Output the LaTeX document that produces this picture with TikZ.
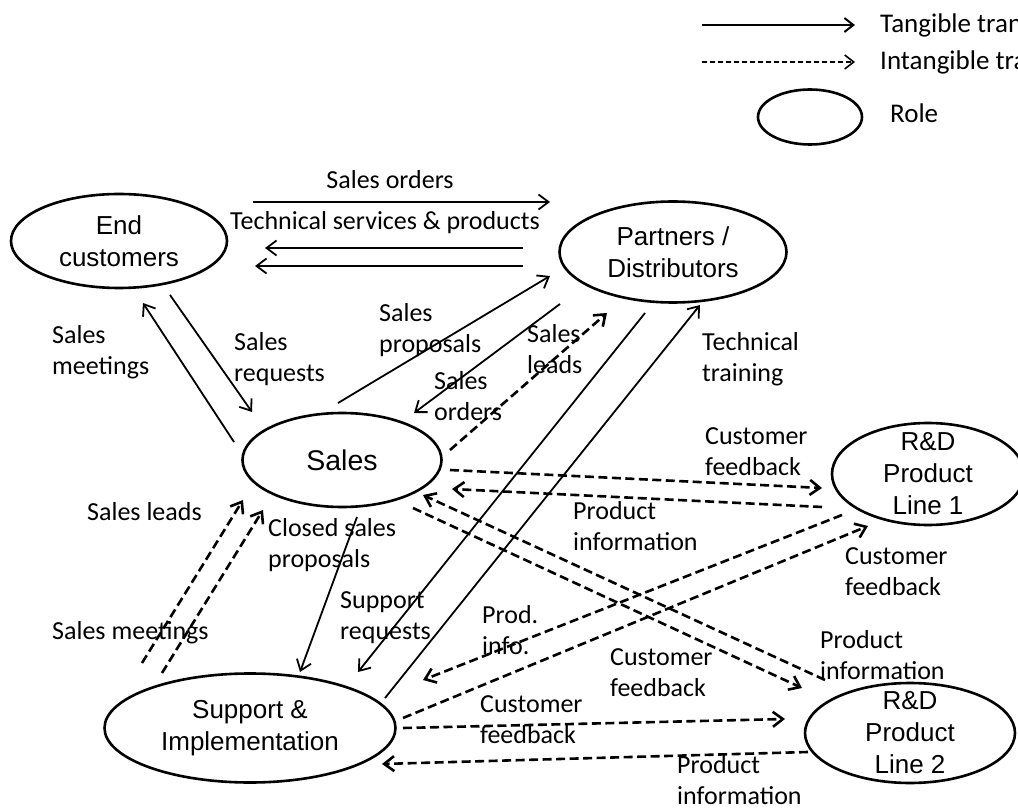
\documentclass[tikz,border=0pt]{standalone}
\usepackage{fontspec}
\setmainfont{Carlito}
\newfontfamily\rolefont{Liberation Sans}
\usetikzlibrary{shapes.geometric,arrows.meta}

\begin{document}
\begin{tikzpicture}[x=1pt,y=-1pt,
  role/.style={ellipse,draw,line width=2.6pt,inner sep=-15pt,align=center,
    font=\rolefont\fontsize{26}{32}\selectfont},
  flow/.style={line width=1.8pt,-{Straight Barb[length=10pt,width=15pt]}},
  soft/.style={flow,line width=2.6pt,dash pattern=on 9pt off 4.5pt},
  lbl/.style={anchor=west,align=left,inner sep=0pt,font=\fontsize{26}{31}\selectfont},
  keytext/.style={anchor=west,inner sep=0pt,font=\fontsize{27}{32}\selectfont},
]
\useasboundingbox (0,0) rectangle (1018,810);
\clip (0,0) rectangle (1018,810);

% ---- legend ----
\node[keytext] (keytan) at (880,25) {Tangible transactions};
\node[keytext] (keyint) at (880,62) {Intangible transactions};
\node[role,minimum width=104pt,minimum height=55pt] (keyrole) at (810,117) {};
\node[keytext] (keyroletext) at (890,113) {Role};
\draw[line width=2pt,-{Straight Barb[length=9pt,width=14pt]}]
  ([xshift=-178pt]keytan.west) -- ([xshift=-25pt]keytan.west);
\draw[line width=1.6pt,dash pattern=on 5pt off 3pt,-{Straight Barb[length=9pt,width=14pt]}]
  ([xshift=-178pt]keyint.west) -- ([xshift=-25pt]keyint.west);

% ---- roles ----
\node[role,minimum width=216pt,minimum height=94pt] (endc) at (119,241) {End\\customers};
\node[role,minimum width=227pt,minimum height=101pt] (partners) at (673,252) {Partners /\\Distributors};
\node[role,minimum width=199pt,minimum height=94pt,font=\rolefont\fontsize{28.5}{34}\selectfont] (sales) at (342,460) {Sales};
\node[role,minimum width=291pt,minimum height=109pt] (support) at (250,728) {Support \&\\Implementation};
\node[role,minimum width=192pt,minimum height=102pt] (rd1) at (928,474) {R\&D\\Product\\Line 1};
\node[role,minimum width=210pt,minimum height=100pt] (rd2) at (910,733) {R\&D\\Product\\Line 2};

% ---- tangible transactions ----
\draw[flow] ([shift={(134,-39)}]endc.center) -- ([shift={(-123,-50)}]partners.center);
\draw[flow] ([shift={(-150,-4)}]partners.center) -- ([shift={(146,7)}]endc.center);
\draw[flow] ([shift={(-150,14)}]partners.center) -- ([shift={(136,25)}]endc.center);
\draw[flow] ([shift={(-108,-18)}]sales.center) -- ([shift={(24,62)}]endc.center);
\draw[flow] ([shift={(51,54)}]endc.center) -- ([shift={(-90,-48)}]sales.center);
\draw[flow] ([shift={(-4,-57)}]sales.center) -- ([shift={(-123,24)}]partners.center);
\draw[flow] ([shift={(-113,52)}]partners.center) -- ([shift={(72,-47)}]sales.center);
\draw[flow] ([shift={(-28,61)}]partners.center) -- ([shift={(108,-56)}]support.center);
\draw[flow] ([shift={(135,-30)}]support.center) -- ([shift={(27,53)}]partners.center);
\draw[flow] ([shift={(15,57)}]sales.center) -- ([shift={(50,-56)}]support.center);

% ---- intangible transactions ----
\draw[soft] ([shift={(108,-10)}]sales.center) -- ([shift={(-66,61)}]partners.center);
\draw[soft] ([shift={(-108,-65)}]support.center) -- ([shift={(-99,40)}]sales.center);
\draw[soft] ([shift={(-88,-55)}]support.center) -- ([shift={(-79,50)}]sales.center);
\draw[soft] ([shift={(108,10)}]sales.center) -- ([shift={(-106,14)}]rd1.center);
\draw[soft] ([shift={(-106,33)}]rd1.center) -- ([shift={(110,29)}]sales.center);
\draw[soft] ([shift={(-85,-53)}]rd2.center) -- ([shift={(81,35)}]sales.center);
\draw[soft] ([shift={(71,48)}]sales.center) -- ([shift={(-108,-45)}]rd2.center);
\draw[soft] ([shift={(-86,41)}]rd1.center) -- ([shift={(173,-48)}]support.center);
\draw[soft] ([shift={(153,-10)}]support.center) -- ([shift={(-60,52)}]rd1.center);
\draw[soft] ([shift={(153,0)}]support.center) -- ([shift={(-125,-14)}]rd2.center);
\draw[soft] ([shift={(-102,19)}]rd2.center) -- ([shift={(132,36)}]support.center);

% ---- transaction labels ----
\node[lbl,anchor=center] (l1) at (390,180) {Sales orders};
\node[lbl,anchor=center] (l2) at (385,223) {Technical services \& products};
\node[lbl] (l3) at (52,352) {Sales\\meetings};
\node[lbl] (l4) at (234,359) {Sales\\requests};
\node[lbl] (l5) at (379,330) {Sales\\proposals};
\node[lbl] (l6) at (434,396) {Sales\\orders};
\node[lbl] (l7) at (527,349) {Sales\\leads};
\node[lbl] (l8) at (702,359) {Technical\\training};
\node[lbl] (l9) at (705,452) {Customer\\feedback};
\node[lbl] (l10) at (573,526) {Product\\information};
\node[lbl] (l11) at (87,512) {Sales leads};
\node[lbl] (l12) at (268,545) {Closed sales\\proposals};
\node[lbl] (l13) at (52,633) {Sales meetings};
\node[lbl] (l14) at (340,618) {Support\\requests};
\node[lbl] (l15) at (482,630) {Prod.\\info.};
\node[lbl] (l16) at (845,572) {Customer\\feedback};
\node[lbl] (l17) at (820,655) {Product\\information};
\node[lbl] (l18) at (610,673) {Customer\\feedback};
\node[lbl] (l19) at (480,720) {Customer\\feedback};
\node[lbl] (l20) at (677,780) {Product\\information};
\end{tikzpicture}
\end{document}
